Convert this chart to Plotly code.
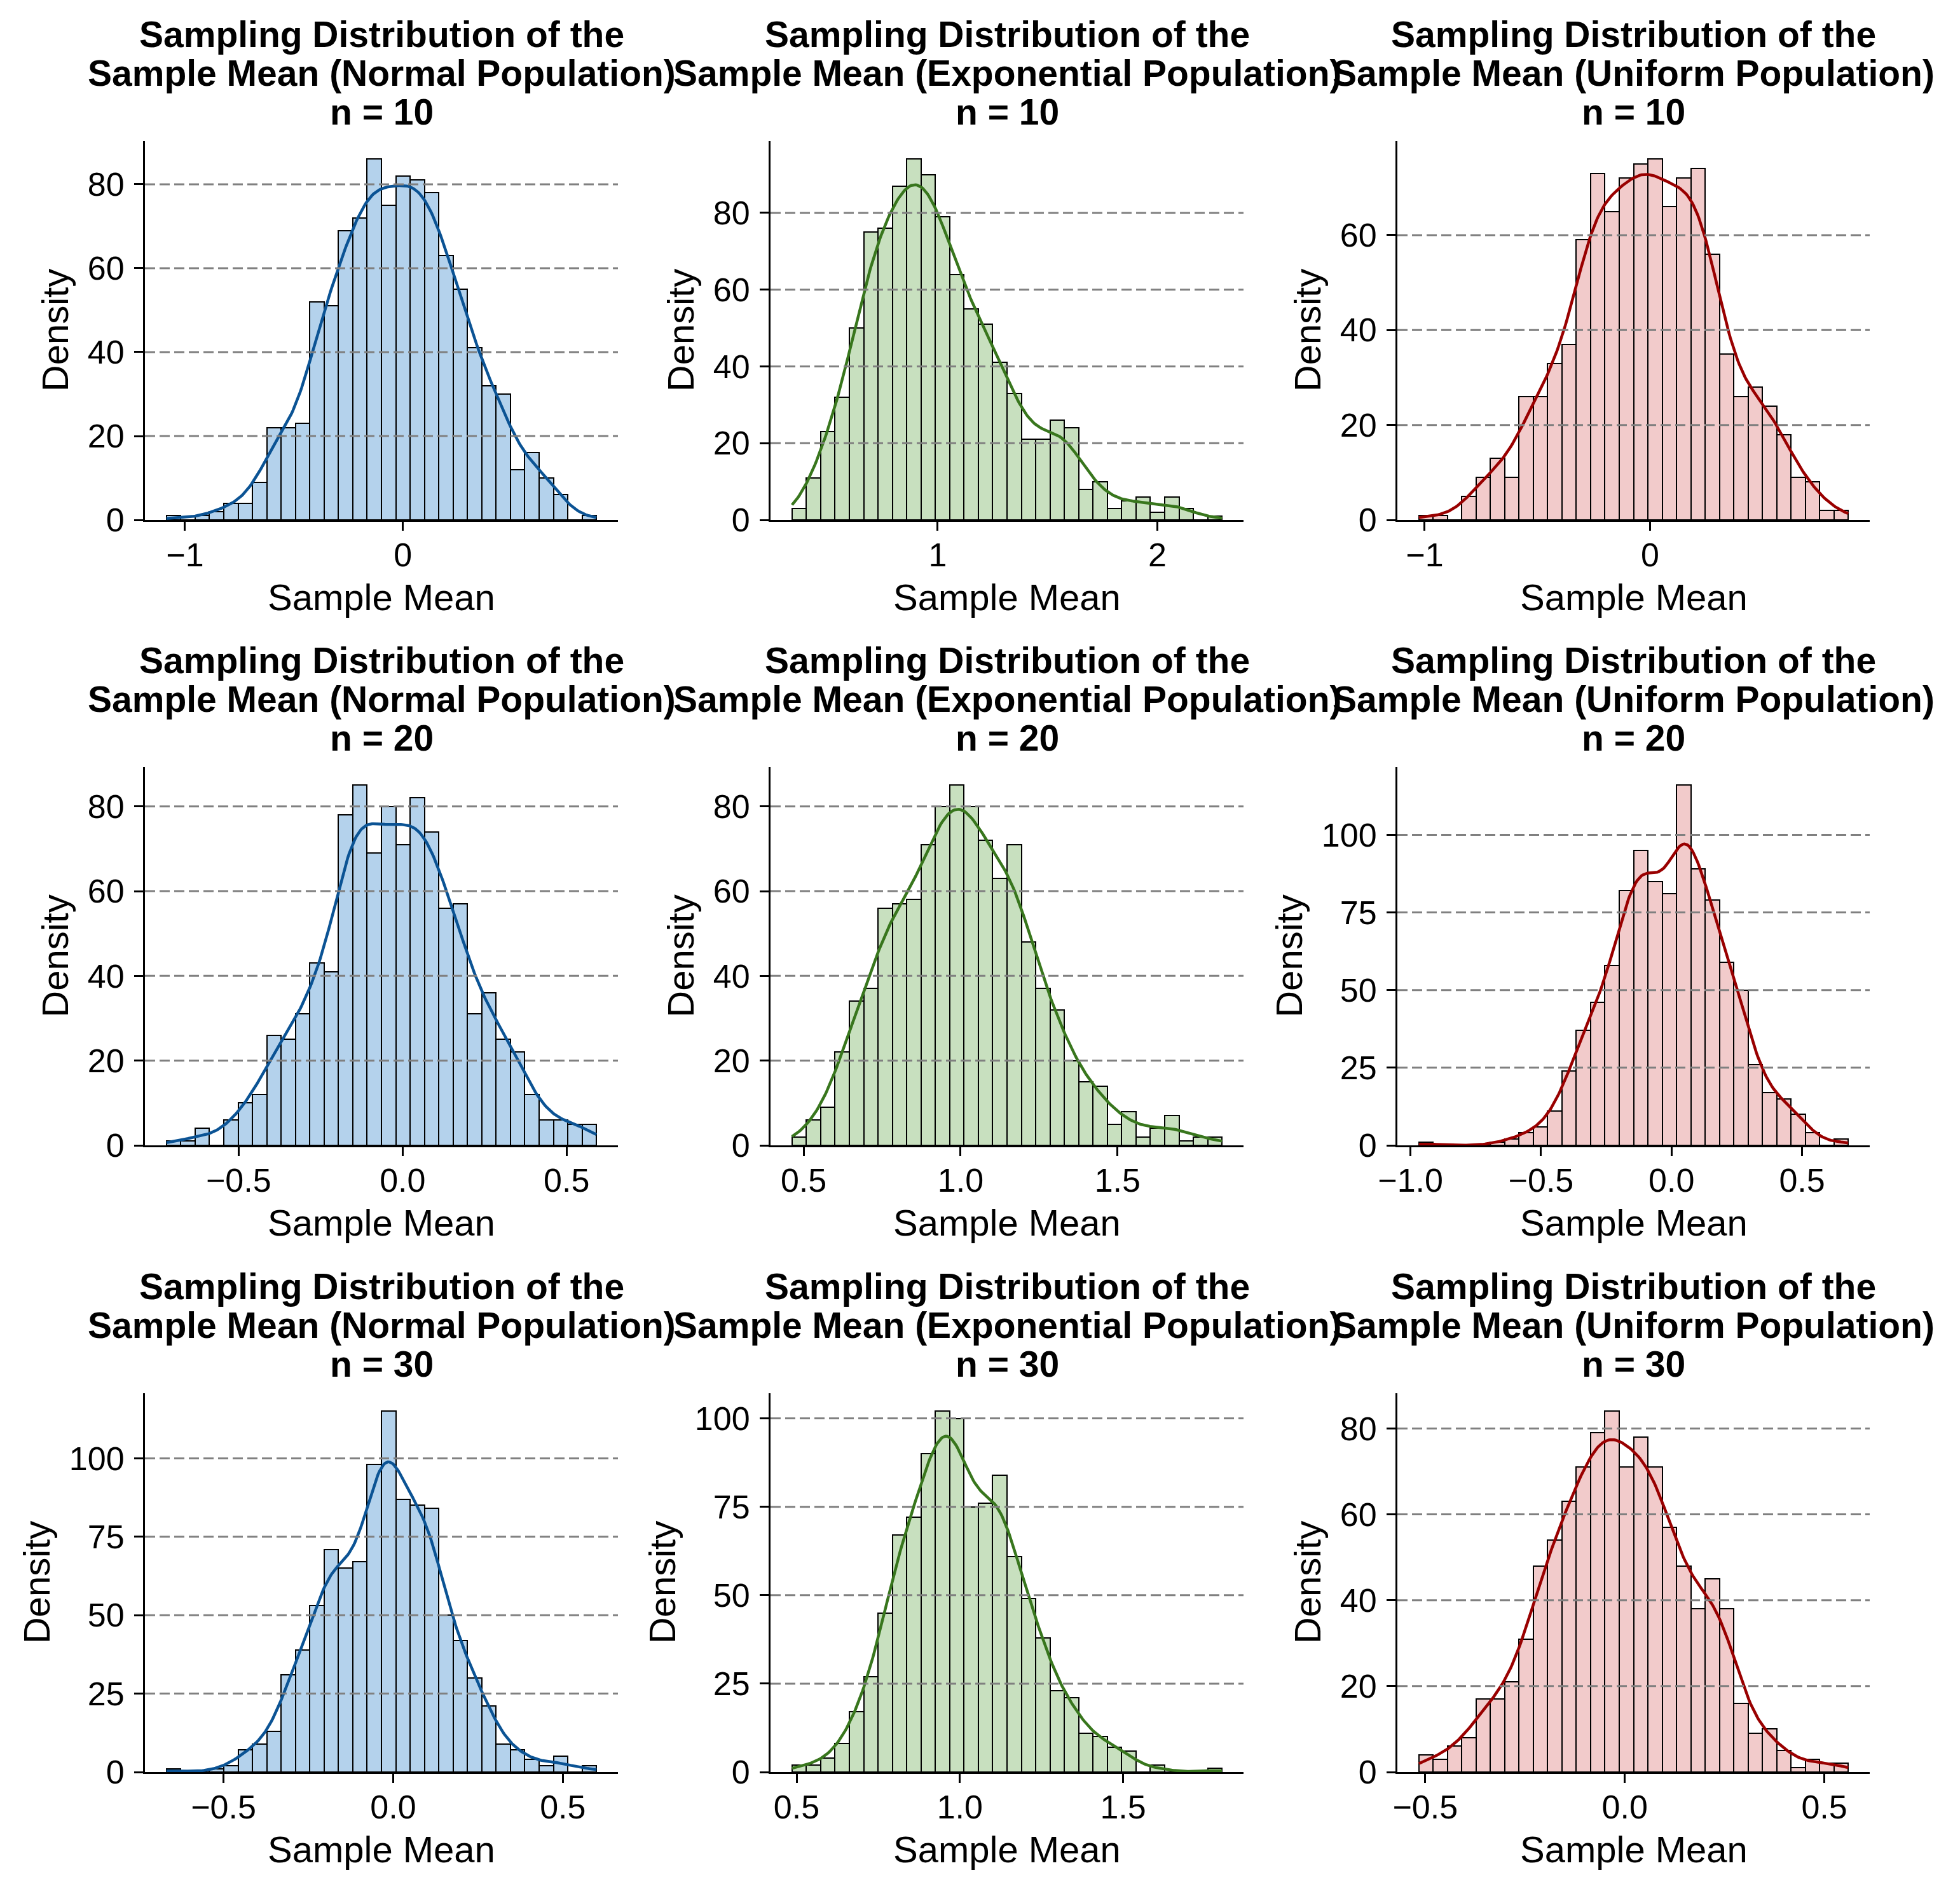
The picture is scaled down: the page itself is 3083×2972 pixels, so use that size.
import numpy as np
import plotly.graph_objects as go

# ---------------- data ----------------
sample_sizes = [10, 20, 30]
populations = ["Normal", "Exponential", "Uniform"]

# counts in 30 equal bins; range = (min, max) of the simulated sample means
normal_n10_counts = [1, 0, 1, 2, 4, 4, 9, 22, 22, 23, 52, 51, 69, 72, 86, 75, 82, 81, 78, 63, 55, 41, 32, 30, 12, 16, 10, 6, 0, 1]
normal_n10_range = [-1.085, 0.888]
exp_n10_counts = [3, 11, 23, 32, 50, 75, 76, 87, 94, 90, 79, 64, 55, 51, 41, 33, 21, 21, 26, 24, 8, 10, 3, 5, 6, 2, 6, 3, 0, 1]
exp_n10_range = [0.337, 2.294]
unif_n10_counts = [1, 1, 0, 5, 9, 13, 9, 26, 26, 33, 37, 59, 73, 65, 72, 75, 76, 66, 72, 74, 56, 35, 26, 28, 24, 18, 9, 8, 2, 2]
unif_n10_range = [-1.026, 0.879]

normal_n20_counts = [1, 1, 4, 0, 6, 10, 12, 26, 25, 31, 43, 41, 78, 85, 69, 80, 71, 82, 74, 56, 57, 31, 36, 25, 22, 12, 6, 6, 5, 5]
normal_n20_range = [-0.720, 0.591]
exp_n20_counts = [2, 6, 9, 22, 34, 37, 56, 57, 58, 71, 80, 85, 80, 72, 63, 71, 48, 37, 32, 20, 15, 14, 5, 8, 2, 4, 7, 1, 2, 2]
exp_n20_range = [0.463, 1.833]
unif_n20_counts = [1, 0, 0, 0, 0, 1, 2, 4, 6, 11, 24, 37, 46, 58, 82, 95, 85, 81, 116, 89, 79, 59, 50, 26, 17, 15, 10, 4, 0, 2]
unif_n20_range = [-0.968, 0.677]

normal_n30_counts = [1, 0, 0, 1, 2, 7, 9, 13, 31, 39, 53, 71, 65, 67, 98, 115, 87, 85, 84, 50, 42, 30, 21, 9, 7, 4, 2, 5, 0, 2]
normal_n30_range = [-0.668, 0.599]
exp_n30_counts = [2, 2, 4, 8, 17, 27, 45, 67, 72, 90, 102, 100, 75, 76, 84, 61, 49, 38, 23, 21, 11, 10, 7, 6, 0, 2, 0, 0, 0, 1]
exp_n30_range = [0.486, 1.803]
unif_n30_counts = [4, 3, 6, 8, 17, 17, 21, 31, 48, 54, 63, 71, 79, 84, 71, 78, 71, 57, 48, 38, 45, 38, 16, 9, 10, 5, 1, 3, 2, 2]
unif_n30_range = [-0.516, 0.560]

# tick values / labels
normal_n10_xticks = [-1, 0]
normal_n10_xlabels = ["\u22121", "0"]
exp_n10_xticks = [1, 2]
exp_n10_xlabels = ["1", "2"]
unif_n10_xticks = [-1, 0]
unif_n10_xlabels = ["\u22121", "0"]
normal_n20_xticks = [-0.5, 0.0, 0.5]
normal_n20_xlabels = ["\u22120.5", "0.0", "0.5"]
exp_n20_xticks = [0.5, 1.0, 1.5]
exp_n20_xlabels = ["0.5", "1.0", "1.5"]
unif_n20_xticks = [-1.0, -0.5, 0.0, 0.5]
unif_n20_xlabels = ["\u22121.0", "\u22120.5", "0.0", "0.5"]
normal_n30_xticks = [-0.5, 0.0, 0.5]
normal_n30_xlabels = ["\u22120.5", "0.0", "0.5"]
exp_n30_xticks = [0.5, 1.0, 1.5]
exp_n30_xlabels = ["0.5", "1.0", "1.5"]
unif_n30_xticks = [-0.5, 0.0, 0.5]
unif_n30_xlabels = ["\u22120.5", "0.0", "0.5"]

yticks_by20_60 = [0, 20, 40, 60]
yticks_by20_80 = [0, 20, 40, 60, 80]
yticks_by25_100 = [0, 25, 50, 75, 100]

panels = [
    # (population, n, counts, range, xticks, xlabels, yticks)
    ("Normal", 10, normal_n10_counts, normal_n10_range, normal_n10_xticks, normal_n10_xlabels, yticks_by20_80),
    ("Exponential", 10, exp_n10_counts, exp_n10_range, exp_n10_xticks, exp_n10_xlabels, yticks_by20_80),
    ("Uniform", 10, unif_n10_counts, unif_n10_range, unif_n10_xticks, unif_n10_xlabels, yticks_by20_60),
    ("Normal", 20, normal_n20_counts, normal_n20_range, normal_n20_xticks, normal_n20_xlabels, yticks_by20_80),
    ("Exponential", 20, exp_n20_counts, exp_n20_range, exp_n20_xticks, exp_n20_xlabels, yticks_by20_80),
    ("Uniform", 20, unif_n20_counts, unif_n20_range, unif_n20_xticks, unif_n20_xlabels, yticks_by25_100),
    ("Normal", 30, normal_n30_counts, normal_n30_range, normal_n30_xticks, normal_n30_xlabels, yticks_by25_100),
    ("Exponential", 30, exp_n30_counts, exp_n30_range, exp_n30_xticks, exp_n30_xlabels, yticks_by25_100),
    ("Uniform", 30, unif_n30_counts, unif_n30_range, unif_n30_xticks, unif_n30_xlabels, yticks_by20_80),
]

# ---------------- styles / layout ----------------
fill_colors = {"Normal": "#b4d2ec", "Exponential": "#c8e0bf", "Uniform": "#f2cbcb"}
line_colors = {"Normal": "#0b5394", "Exponential": "#38761d", "Uniform": "#990000"}

FONT = "Liberation Sans, Arial, sans-serif"
TITLE_SIZE = 57
LABEL_SIZE = 58
TICK_SIZE = 52

# page offset of the figure div (default body margin) and figure size
PAGE_OFF = 8
FIG_W = 3083 - PAGE_OFF
FIG_H = 2972 - PAGE_OFF

# axes boxes in page pixels
col_px = [(228, 972), (1212, 1956), (2198, 2941)]
row_px = [(222, 818), (1207, 1802), (2192, 2788)]  # (top, bottom)

col_domains = [[(a - PAGE_OFF) / FIG_W, (b - PAGE_OFF) / FIG_W] for a, b in col_px]
row_domains = [[1 - (b - PAGE_OFF) / FIG_H, 1 - (t - PAGE_OFF) / FIG_H] for t, b in row_px]


def kde_curve(counts, rng, ngrid=300):
    w = np.asarray(counts, dtype=float)
    edges = np.linspace(rng[0], rng[1], len(w) + 1)
    centers = 0.5 * (edges[:-1] + edges[1:])
    binw = edges[1] - edges[0]
    n = w.sum()
    mean = (w * centers).sum() / n
    var = (w * (centers - mean) ** 2).sum() / (n - 1)
    bw = np.sqrt(var) * n ** (-0.2)
    xs = np.linspace(rng[0], rng[1], ngrid)
    dens = (w[None, :] * np.exp(-0.5 * ((xs[:, None] - centers[None, :]) / bw) ** 2)).sum(axis=1)
    dens /= n * bw * np.sqrt(2 * np.pi)
    return xs, dens * n * binw, centers, binw


fig = go.Figure()
annotations = []
shapes = []

for i, (pop, n, counts, rng, xt, xl, yt) in enumerate(panels):
    r, c = divmod(i, 3)
    k = i + 1
    xa = "x" if k == 1 else f"x{k}"
    ya = "y" if k == 1 else f"y{k}"
    xs, ys, centers, binw = kde_curve(counts, rng)

    fig.add_trace(go.Bar(
        x=centers, y=counts, width=binw,
        marker=dict(color=fill_colors[pop], line=dict(color="black", width=2)),
        xaxis=xa, yaxis=ya, showlegend=False,
    ))
    fig.add_trace(go.Scatter(
        x=xs, y=ys, mode="lines",
        line=dict(color=line_colors[pop], width=4.5),
        xaxis=xa, yaxis=ya, showlegend=False,
    ))

    span = rng[1] - rng[0]
    xrange = [rng[0] - 0.05 * span, rng[1] + 0.05 * span]
    ytop = 1.05 * max(max(counts), float(ys.max()))

    axis_common = dict(
        showline=True, linecolor="black", linewidth=3,
        ticks="outside", ticklen=14, tickwidth=3, tickcolor="black",
        showgrid=False, zeroline=False, automargin=False,
        tickfont=dict(family=FONT, size=TICK_SIZE, color="black"),
        layer="above traces",
    )
    fig.update_layout(**{
        ("xaxis" if k == 1 else f"xaxis{k}"): dict(
            domain=col_domains[c], anchor=ya, range=xrange,
            tickmode="array", tickvals=xt, ticktext=xl, ticklabelstandoff=-6,
            **axis_common),
        ("yaxis" if k == 1 else f"yaxis{k}"): dict(
            domain=row_domains[r], anchor=xa, range=[0, ytop],
            tickmode="array", tickvals=yt, ticktext=[str(v) for v in yt], ticklabelstandoff=5,
            **axis_common),
    })

    # dashed horizontal grid lines drawn above the bars
    for v in yt:
        if v == 0:
            continue
        shapes.append(dict(
            type="line", xref=f"{xa} domain", yref=ya, x0=0, x1=1, y0=v, y1=v,
            line=dict(color="#808080", width=3, dash="16px,7px"), layer="above",
        ))

    xc = 0.5 * (col_domains[c][0] + col_domains[c][1])
    ytopdom = row_domains[r][1]
    ybot = row_domains[r][0]
    title_lines = ["Sampling Distribution of the", f"Sample Mean ({pop} Population)", f"n = {n}"]
    for line, shift in zip(title_lines, [168, 107, 46]):
        annotations.append(dict(
            text=f"<b>{line}</b>", x=xc, y=ytopdom, xref="paper", yref="paper",
            xanchor="center", yanchor="middle", yshift=shift, showarrow=False,
            font=dict(family=FONT, size=TITLE_SIZE, color="black"),
        ))
    annotations.append(dict(
        text="Sample Mean", x=xc, y=ybot, xref="paper", yref="paper",
        xanchor="center", yanchor="middle", yshift=-121, showarrow=False,
        font=dict(family=FONT, size=LABEL_SIZE, color="black"),
    ))
    nchar = max(len(str(v)) for v in yt)
    offset = 24 + nchar * 0.556 * TICK_SIZE + 60
    annotations.append(dict(
        text="Density", x=col_domains[c][0], y=0.5 * (ybot + ytopdom), xref="paper", yref="paper",
        xanchor="center", yanchor="middle", xshift=-offset, textangle=-90, showarrow=False,
        font=dict(family=FONT, size=LABEL_SIZE, color="black"),
    ))

fig.update_layout(
    template="none",
    width=FIG_W, height=FIG_H,
    margin=dict(l=0, r=0, t=0, b=0, pad=0),
    paper_bgcolor="white", plot_bgcolor="white",
    bargap=0, barmode="overlay",
    annotations=annotations, shapes=shapes,
    font=dict(family=FONT, color="black"),
)

fig.write_html("out.html")
